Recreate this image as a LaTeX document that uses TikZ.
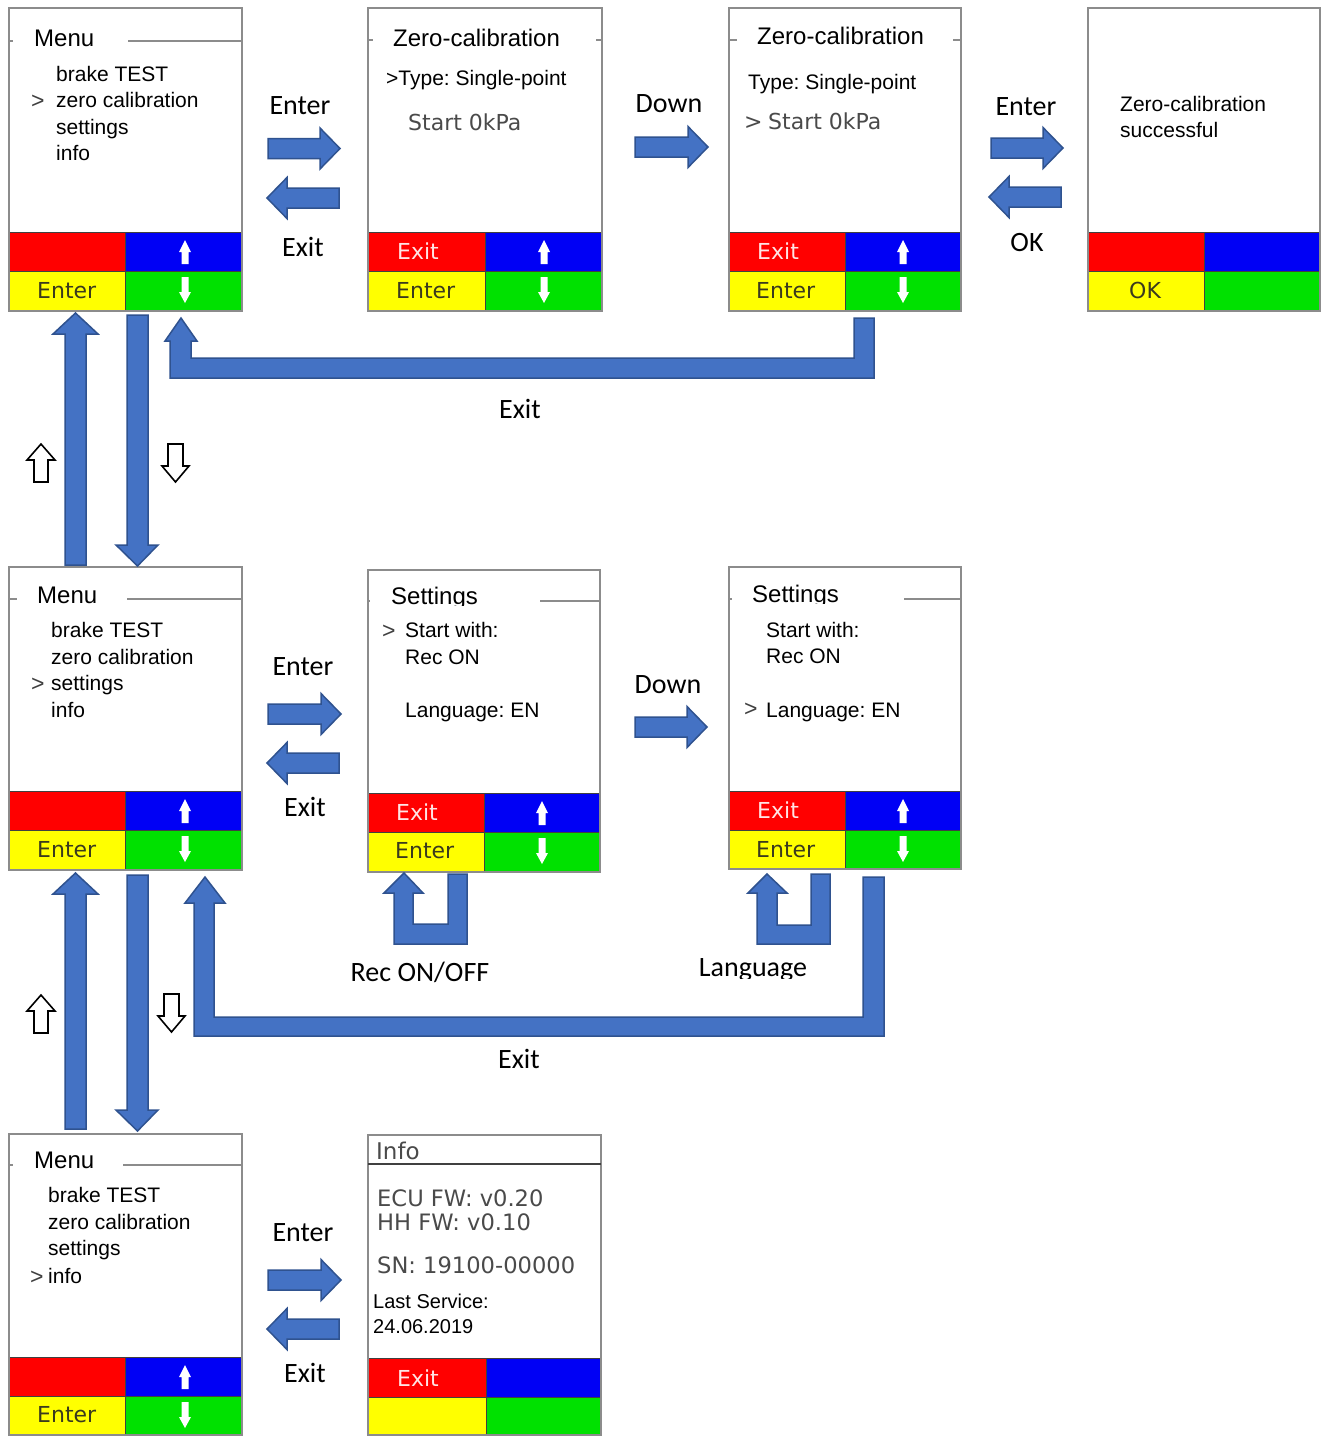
\documentclass[tikz,border=0pt]{standalone}
\usepackage{fontspec}
\setmainfont{Liberation Sans}
\newfontfamily\dvfont{DejaVu Sans}
\newfontfamily\cbfont{Carlito}
\definecolor{cred}{HTML}{FF0000}
\definecolor{cblue}{HTML}{0000F5}
\definecolor{cyellow}{HTML}{FFFF00}
\definecolor{cgreen}{HTML}{00E100}
\definecolor{arrowblue}{HTML}{4472C4}
\definecolor{arrowedge}{HTML}{2F528F}
\definecolor{framegray}{HTML}{8C8C8C}
\definecolor{ptrgray}{HTML}{404040}
\definecolor{btntext}{HTML}{3A3A1E}
\definecolor{exittext}{HTML}{FFE4E4}
\definecolor{dvgray}{HTML}{4A4A4A}
\tikzset{
  screen/.style={draw=framegray, line width=1.8pt, inner sep=0pt, outer sep=0pt},
  barline/.style={draw=ptrgray, line width=0.8pt},
  titleline/.style={draw=framegray, line width=2pt},
  blockarrow/.style={fill=arrowblue, draw=arrowedge, line width=1.5pt, line join=miter},
  hollow/.style={fill=white, draw=black, line width=1.6pt, line join=miter},
  item/.style={anchor=base west, inner sep=0pt, font=\fontsize{21}{21}\selectfont},
  ptr/.style={item, text=ptrgray},
  ttl/.style={anchor=base west, inner sep=0pt, font=\fontsize{24}{24}\selectfont},
  btn/.style={anchor=base west, inner sep=0pt, text=btntext, font=\dvfont\fontsize{22}{22}\selectfont},
  exitbtn/.style={btn, text=exittext},
  dvtxt/.style={anchor=base west, inner sep=0pt, text=dvgray, font=\dvfont\fontsize{22}{22}\selectfont},
  infotxt/.style={dvtxt, font=\dvfont\fontsize{22.6}{22.6}\selectfont},
  lbl/.style={anchor=base, inner sep=0pt, font=\cbfont\fontsize{28}{28}\selectfont},
}
% screen: name, x1, y1, x2, y2, bar top, bar middle, split x
\newcommand\scrbox[8]{%
  \fill[cred] (#2,#6) rectangle (#8,#7);
  \fill[cblue] (#8,#6) rectangle (#4,#7);
  \fill[cyellow] (#2,#7) rectangle (#8,#5);
  \fill[cgreen] (#8,#7) rectangle (#4,#5);
  \draw[barline] (#2,#6) -- (#4,#6) (#2,#7) -- (#4,#7) (#8,#6) -- (#8,#5);
  \node[screen, minimum width={#4-#2}, minimum height={#5-#3}] (#1) at ({(#2+#4)/2},{(#3+#5)/2}) {};
}
\newcommand\wup[2]{\fill[white] (#1,#2-12) -- (#1+6,#2) -- (#1+3.5,#2) -- (#1+3.5,#2+12) -- (#1-3.5,#2+12) -- (#1-3.5,#2) -- (#1-6,#2) -- cycle;}
\newcommand\wdown[2]{\fill[white] (#1-3.5,#2-13) -- (#1+3.5,#2-13) -- (#1+3.5,#2+2) -- (#1+6,#2+2) -- (#1,#2+13) -- (#1-6,#2+2) -- (#1-3.5,#2+2) -- cycle;}
\newcommand\barrR[3]{\filldraw[blockarrow] (#1,#2-10) -- (#3-20,#2-10) -- (#3-20,#2-20.5) -- (#3,#2) -- (#3-20,#2+20.5) -- (#3-20,#2+10) -- (#1,#2+10) -- cycle;}
\newcommand\barrL[3]{\filldraw[blockarrow] (#3,#2-10) -- (#1+20,#2-10) -- (#1+20,#2-20.5) -- (#1,#2) -- (#1+20,#2+20.5) -- (#1+20,#2+10) -- (#3,#2+10) -- cycle;}
\begin{document}
\frenchspacing
\begin{tikzpicture}[x=1pt,y=-1pt]
\fill[white] (0,0) rectangle (1329,1436);
\useasboundingbox (0,0) rectangle (1329,1436);

% ---------- screens ----------
\scrbox{s1}{9}{8}{242}{311}{232}{271}{125}
\scrbox{s2}{368}{8}{602}{311}{232}{271}{485}
\scrbox{s3}{729}{8}{961}{311}{232}{271}{845}
\scrbox{s4}{1088}{8}{1320}{311}{232}{271}{1204}
\scrbox{s5}{9}{567}{242}{870}{791}{830}{125}
\scrbox{s6}{368}{570}{600}{872}{793}{832}{484}
\scrbox{s7}{729}{567}{961}{869}{791}{830}{845}
\scrbox{s8}{9}{1134}{242}{1435}{1357}{1396}{125}
\scrbox{s9}{368}{1135}{601}{1435}{1358}{1397}{486}

% white arrows in the blue and green keys
\wup{185}{252}\wdown{185}{290}
\wup{544}{252}\wdown{544}{290}
\wup{903}{252}\wdown{903}{290}
\wup{185}{811}\wdown{185}{849}
\wup{542}{813}\wdown{542}{851}
\wup{903}{811}\wdown{903}{849}
\wup{185}{1377}\wdown{185}{1415}

% title lines
\draw[titleline] (9,40.5) -- (13,40.5) (128,40.5) -- (242,40.5);
\draw[titleline] (368,40) -- (373,40) (596,40) -- (602,40);
\draw[titleline] (729,40) -- (737,40) (953,40) -- (961,40);
\draw[titleline] (9,599) -- (17,599) (127,599) -- (242,599);
\draw[titleline] (368,601) -- (370,601) (540,601) -- (600,601);
\draw[titleline] (729,599) -- (732,599) (904,599) -- (961,599);
\draw[titleline] (9,1165) -- (13,1165) (123,1165) -- (242,1165);
\draw[draw=ptrgray, line width=1.5pt] (368,1164) -- (601,1164);

% ---------- screen texts ----------
% S1
\node[ttl] (t1a) at (34,46) {Menu};
\node[item] (t1b) at (56,81) {brake TEST};
\node[item] (t1c) at (56,107.5) {zero calibration};
\node[item] (t1d) at (56,134) {settings};
\node[item] (t1e) at (56,160) {info};
\node[ptr, font=\fontsize{23}{23}\selectfont] (p1) at (31,108) {>};
\node[btn] (b1) at (37,298) {Enter};
% S2
\node[ttl] (t2a) at (393,46) {Zero-calibration};
\node[item] (t2b) at (386,85) {>Type: Single-point};
\node[dvtxt] (t2c) at (408,130) {Start 0kPa};
\node[exitbtn] (b2a) at (397,259) {Exit};
\node[btn] (b2b) at (396,298) {Enter};
% S3
\node[ttl] (t3a) at (757,44) {Zero-calibration};
\node[item] (t3b) at (748,89) {Type: Single-point};
\node[dvtxt] (p3) at (744,129) {>};
\node[dvtxt] (t3c) at (768,129) {Start 0kPa};
\node[exitbtn] (b3a) at (757,259) {Exit};
\node[btn] (b3b) at (756,298) {Enter};
% S4
\node[item] (t4a) at (1120,111) {Zero-calibration};
\node[item] (t4b) at (1120,137) {successful};
\node[btn] (b4) at (1129,298) {OK};
% S5
\node[ttl] (t5a) at (37,603) {Menu};
\node[item] (t5b) at (51,637) {brake TEST};
\node[item] (t5c) at (51,664) {zero calibration};
\node[item] (t5d) at (51,690) {settings};
\node[item] (t5e) at (51,717) {info};
\node[ptr, font=\fontsize{23}{23}\selectfont] (p5) at (31,691) {>};
\node[btn] (b5) at (37,857) {Enter};
% S6
\begin{scope}
\clip (380,575) rectangle (530,605.5);
\node[ttl] (t6a) at (391,604) {Settings};
\end{scope}
\node[ptr, font=\fontsize{23}{23}\selectfont] (p6) at (382,638) {>};
\node[item] (t6b) at (405,637) {Start with:};
\node[item] (t6c) at (405,664) {Rec ON};
\node[item] (t6d) at (405,717) {Language: EN};
\node[exitbtn] (b6a) at (396,820) {Exit};
\node[btn] (b6b) at (395,858) {Enter};
% S7
\begin{scope}
\clip (740,572) rectangle (900,603.5);
\node[ttl] (t7a) at (752,602) {Settings};
\end{scope}
\node[item] (t7b) at (766,637) {Start with:};
\node[item] (t7c) at (766,663) {Rec ON};
\node[ptr, font=\fontsize{23}{23}\selectfont] (p7) at (744,716) {>};
\node[item] (t7d) at (766,717) {Language: EN};
\node[exitbtn] (b7a) at (757,818) {Exit};
\node[btn] (b7b) at (756,857) {Enter};
% S8
\node[ttl] (t8a) at (34,1168) {Menu};
\node[item] (t8b) at (48,1202) {brake TEST};
\node[item] (t8c) at (48,1229) {zero calibration};
\node[item] (t8d) at (48,1255) {settings};
\node[item] (t8e) at (48,1283) {info};
\node[ptr, font=\fontsize{23}{23}\selectfont] (p8) at (30,1284) {>};
\node[btn] (b8) at (37,1422) {Enter};
% S9
\node[dvtxt, font=\dvfont\fontsize{23}{23}\selectfont] (t9a) at (376,1159) {Info};
\node[infotxt] (t9b) at (377,1206) {ECU FW: v0.20};
\node[infotxt] (t9c) at (377,1230) {HH FW: v0.10};
\node[infotxt] (t9d) at (377,1273) {SN: 19100-00000};
\node[item, font=\fontsize{20}{20}\selectfont] (t9e) at (373,1308) {Last Service:};
\node[item, font=\fontsize{20}{20}\selectfont] (t9f) at (373,1333) {24.06.2019};
\node[exitbtn] (b9) at (397,1386) {Exit};

% ---------- horizontal block arrows ----------
\barrR{268}{148.5}{340}
\barrL{267}{198}{339}
\barrR{635}{147}{708}
\barrR{991}{148}{1063}
\barrL{989}{197}{1061}
\barrR{268}{714}{341}
\barrL{267}{763}{339}
\barrR{635}{727}{707}
\barrR{268}{1280}{341}
\barrL{267}{1329}{339}

% ---------- vertical block arrows ----------
\filldraw[blockarrow] (65,565) -- (65,334) -- (53,334) -- (75.5,313) -- (98,334) -- (86,334) -- (86,565) -- cycle;
\filldraw[blockarrow] (127,315) -- (148,315) -- (148,545) -- (158,545) -- (137.5,566) -- (116,545) -- (127,545) -- cycle;
\filldraw[blockarrow] (65,1129) -- (65,894) -- (53,894) -- (75.5,873) -- (98,894) -- (86,894) -- (86,1129) -- cycle;
\filldraw[blockarrow] (127,875) -- (148,875) -- (148,1110) -- (158,1110) -- (137.5,1131) -- (116,1110) -- (127,1110) -- cycle;

% ---------- U-shaped block arrows ----------
\filldraw[blockarrow] (874,318) -- (874,378) -- (170,378) -- (170,341) -- (165,341) -- (181,318) -- (197,341) -- (191,341) -- (191,358) -- (854,358) -- (854,318) -- cycle;
\filldraw[blockarrow] (884,877) -- (884,1036) -- (194,1036) -- (194,903) -- (185,903) -- (205,877) -- (225,903) -- (214,903) -- (214,1017) -- (863,1017) -- (863,877) -- cycle;
\filldraw[blockarrow] (467,874) -- (467,944) -- (394,944) -- (394,893) -- (384,893) -- (404,873) -- (423,893) -- (413,893) -- (413,924) -- (448,924) -- (448,874) -- cycle;
\filldraw[blockarrow] (830,874) -- (830,944) -- (757,944) -- (757,893) -- (748,893) -- (767,874) -- (787,893) -- (777,893) -- (777,925) -- (811,925) -- (811,874) -- cycle;

% ---------- hollow small arrows ----------
\filldraw[hollow] (41,444) -- (55,460) -- (48,460) -- (48,482) -- (34,482) -- (34,460) -- (27,460) -- cycle;
\filldraw[hollow] (168,444) -- (183,444) -- (183,466) -- (189,466) -- (175.5,482) -- (162,466) -- (168,466) -- cycle;
\filldraw[hollow] (41,995) -- (55,1011) -- (48,1011) -- (48,1033) -- (34,1033) -- (34,1011) -- (27,1011) -- cycle;
\filldraw[hollow] (164,994) -- (179,994) -- (179,1016) -- (185,1016) -- (171.5,1032) -- (158,1016) -- (164,1016) -- cycle;

% ---------- connector labels ----------
\node[lbl] (l1) at (300,114) {Enter};
\node[lbl] (l2) at (303,256) {Exit};
\node[lbl] (l3) at (669,112) {Down};
\node[lbl] (l4) at (1026,115) {Enter};
\node[lbl] (l5) at (1027,251) {OK};
\node[lbl] (l6) at (520,418) {Exit};
\node[lbl] (l7) at (303,675) {Enter};
\node[lbl] (l8) at (305,816) {Exit};
\node[lbl] (l9) at (668,693) {Down};
\node[lbl] (l10) at (420,981) {Rec ON/OFF};
\begin{scope}
\clip (680,940) rectangle (830,978);
\node[lbl] (l11) at (753,976) {Language};
\end{scope}
\node[lbl] (l12) at (519,1068) {Exit};
\node[lbl] (l13) at (303,1241) {Enter};
\node[lbl] (l14) at (305,1382) {Exit};
\end{tikzpicture}
\end{document}
